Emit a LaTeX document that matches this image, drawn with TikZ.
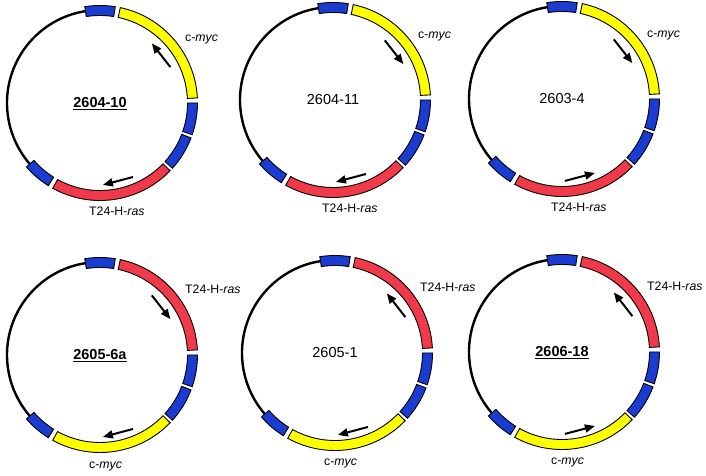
\documentclass[tikz,border=0pt]{standalone}
\usepackage{fontspec}
\setmainfont{Liberation Sans}
\usetikzlibrary{arrows.meta}
\definecolor{pblue}{HTML}{1A3CD0}
\definecolor{pyellow}{HTML}{FFFF00}
\definecolor{pred}{HTML}{F03A4A}
\tikzset{
  backbone/.style={line width=2.4pt, black},
  seg/.style={draw=black, line width=0.9pt},
  dirarrow/.style={line width=2pt, -{Triangle[length=10pt,width=8pt]}},
  genelabel/.style={font=\fontsize{12.3}{14}\selectfont, inner sep=0pt},
  namelabel/.style={font=\fontsize{14.5}{17}\selectfont, inner sep=0pt},
}
\newcommand\genebox[3]{%
  \filldraw[seg, fill=#3] (#1:87.5) arc[start angle=#1, end angle=#2, radius=87.5]
    -- (#2:97.5) arc[start angle=#2, end angle=#1, radius=97.5] -- cycle;}
\newcommand\plasmid[8]{%
 \begin{scope}[shift={(#2,#3)}]
  \coordinate (#1) at (0,0);
  \draw[backbone] (97:93) arc[start angle=97, end angle=223, radius=93];
  \genebox{81}{99}{pblue}
  \genebox{3}{78}{#4}
  \genebox{-19}{0}{pblue}
  \genebox{-42}{-21}{pblue}
  \genebox{-119}{-44}{#5}
  \genebox{-139}{-122}{pblue}
  \node[namelabel, anchor=base] (#1-name) at (0,-5) {#8};
  \node[genelabel, anchor=base west] (#1-top) at (85,61) {#6};
  \node[genelabel, anchor=base west] (#1-bot) at (-11,-113) {#7};
  \coordinate (#1-a) at (27:79); \coordinate (#1-b) at (49:79);
  \coordinate (#1-c) at (-66:81); \coordinate (#1-d) at (-88:82);
 \end{scope}}
\newcommand\myc{c-\textit{myc}}
\newcommand\ras{T24-H-\textit{ras}}
\begin{document}
\begin{tikzpicture}[x=1pt,y=1pt]
\useasboundingbox (0,0) rectangle (706,476);
\plasmid{p1}{100}{373}{pyellow}{pred}{\myc}{\ras}{\underline{\textbf{2604-10}}}
\plasmid{p2}{333}{376}{pyellow}{pred}{\myc}{\ras}{2604-11}
\plasmid{p3}{562}{377}{pyellow}{pred}{\myc}{\ras}{2603-4}
\plasmid{p4}{100}{121}{pred}{pyellow}{\ras}{\myc}{\underline{\textbf{2605-6a}}}
\plasmid{p5}{335}{123}{pred}{pyellow}{\ras}{\myc}{2605-1}
\plasmid{p6}{562}{124}{pred}{pyellow}{\ras}{\myc}{\underline{\textbf{2606-18}}}
% direction arrows
\draw[dirarrow] (p1-a) -- (p1-b);
\draw[dirarrow] (p1-c) -- (p1-d);
\draw[dirarrow] (p2-b) -- (p2-a);
\draw[dirarrow] (p2-c) -- (p2-d);
\draw[dirarrow] (p3-b) -- (p3-a);
\draw[dirarrow] (p3-d) -- (p3-c);
\draw[dirarrow] (p4-b) -- (p4-a);
\draw[dirarrow] (p4-c) -- (p4-d);
\draw[dirarrow] (p5-a) -- (p5-b);
\draw[dirarrow] (p5-c) -- (p5-d);
\draw[dirarrow] (p6-a) -- (p6-b);
\draw[dirarrow] (p6-d) -- (p6-c);
\end{tikzpicture}
\end{document}
